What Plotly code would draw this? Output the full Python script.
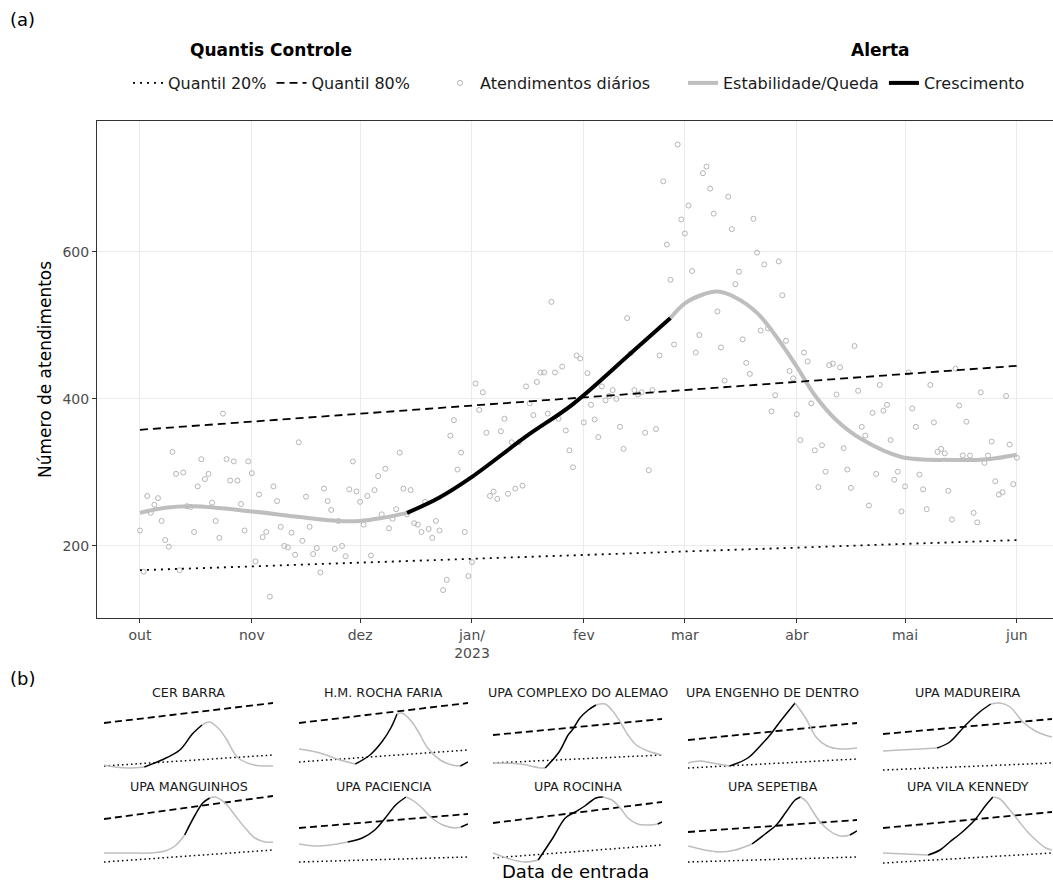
import pandas as pd
import plotly.graph_objects as go

FONT = "DejaVu Sans"
W, H = 1053, 882
START = pd.Timestamp("2022-10-01")

# ---------------- panel (a): daily attendances (Oct 1 2022 .. Jun 1 2023) ----------------
DAILY = [
    221, 165, 268, 245, 256, 265, 234, 208, 199, 328, 298, 167, 300, 254, 253, 219, 281, 318, 291, 298,
    259, 234, 211, 380, 318, 289, 315, 289, 257, 221, 315, 299, 179, 270, 212, 219, 131, 281, 261, 226,
    200, 198, 218, 188, 341, 207, 267, 226, 189, 197, 164, 278, 261, 249, 196, 234, 200, 186, 277, 315,
    274, 260, 229, 268, 187, 276, 295, 243, 305, 224, 237, 250, 327, 278, 243, 276, 231, 229, 219, 260,
    223, 211, 234, 221, 140, 154, 350, 371, 304, 327, 219, 159, 178, 421, 385, 409, 354, 268, 274, 264,
    356, 373, 271, 341, 278, 341, 282, 417, 394, 378, 423, 436, 436, 380, 532, 436, 373, 444, 357, 330,
    307, 459, 455, 368, 435, 392, 372, 348, 417, 398, 404, 412, 400, 362, 332, 510, 462, 412, 406, 409,
    354, 303, 412, 359, 459, 696, 610, 562, 474, 746, 644, 625, 663, 574, 463, 487, 707, 716, 686, 652,
    519, 470, 425, 675, 631, 556, 573, 481, 449, 434, 645, 599, 493, 583, 496, 383, 405, 587, 541, 479,
    438, 428, 379, 344, 463, 451, 394, 330, 280, 337, 301, 446, 448, 406, 443, 333, 304, 279, 472, 411,
    362, 350, 255, 381, 298, 419, 384, 392, 344, 290, 301, 247, 281, 436, 387, 362, 297, 277, 250, 419,
    368, 328, 332, 326, 275, 236, 441, 391, 323, 369, 323, 245, 232, 409, 313, 323, 342, 288, 270, 273,
    404, 338, 284, 320,
]

# smoothed trend (day offset from Oct 1 2022, value)
CURVE_DAYS = [0, 7, 15, 31, 43, 55, 61, 67, 74, 83, 92, 107, 120, 136, 147, 151, 156, 160, 165, 171,
              176, 182, 187, 193, 200, 211, 225, 235, 243]
CURVE_VALS = [245, 252, 254, 247, 240, 234, 234, 238, 245, 266, 294, 349, 393, 462, 510, 530, 542, 546,
              538, 517, 487, 444, 405, 371, 345, 321, 317, 318, 324]
CURVE_GROWTH = [(8, 14)]  # index ranges flagged as "Crescimento"

Q20_MAIN = (167, 208)   # value at first and last day
Q80_MAIN = (358, 445)
LAST_DAY = 243

MONTH_TICKS = ["2022-10-01", "2022-11-01", "2022-12-01", "2023-01-01", "2023-02-01",
               "2023-03-01", "2023-04-01", "2023-05-01", "2023-06-01"]
MONTH_LABELS = ["out", "nov", "dez", "jan/<br>2023", "fev", "mar", "abr", "mai", "jun"]
Y_TICKS = [200, 400, 600]

# ---------------- panel (b): units (relative scale) ----------------
UNITS = ["CER BARRA", "H.M. ROCHA FARIA", "UPA COMPLEXO DO ALEMAO", "UPA ENGENHO DE DENTRO",
         "UPA MADUREIRA", "UPA MANGUINHOS", "UPA PACIENCIA", "UPA ROCINHA", "UPA SEPETIBA",
         "UPA VILA KENNEDY"]
UNIT_DAYS = [
    [0, 16, 36, 58, 83, 109, 127, 141, 152, 164, 175, 193, 216, 243],
    [0, 30, 59, 81, 102, 119, 132, 141, 148, 160, 171, 185, 203, 220, 232, 243],
    [0, 39, 69, 75, 95, 108, 115, 125, 137, 148, 161, 171, 183, 194, 206, 223, 243],
    [0, 17, 35, 60, 86, 105, 118, 132, 154, 170, 184, 200, 219, 243],
    [0, 24, 53, 78, 96, 119, 139, 155, 168, 183, 201, 219, 233, 243],
    [0, 37, 66, 88, 102, 116, 131, 142, 152, 160, 174, 188, 203, 217, 232, 243],
    [0, 23, 45, 70, 91, 109, 124, 139, 154, 165, 177, 191, 207, 224, 233, 243],
    [0, 24, 46, 65, 86, 104, 118, 132, 148, 158, 171, 183, 194, 208, 226, 237, 243],
    [0, 24, 46, 68, 92, 111, 127, 141, 154, 162, 171, 180, 190, 204, 219, 233, 243],
    [0, 32, 65, 82, 96, 114, 132, 147, 158, 168, 180, 194, 208, 223, 234, 243],
]
UNIT_VALS = [
    [7, 5, 4, 5, 12, 22, 38, 47, 50, 44, 34, 14, 7, 6],
    [23, 19, 12, 8, 17, 30, 44, 58, 59, 52, 41, 24, 12, 7, 6, 10],
    [9, 8, 4, 4, 20, 37, 43, 54, 62, 67, 68, 62, 50, 37, 27, 21, 17],
    [9, 11, 9, 6, 14, 27, 37, 50, 69, 53, 35, 26, 23, 24],
    [21, 22, 23, 24, 30, 47, 60, 68, 69, 65, 50, 41, 37, 35],
    [13, 13, 13, 15, 20, 31, 51, 63, 68, 69, 63, 51, 38, 28, 24, 24],
    [22, 20, 21, 24, 28, 36, 48, 61, 69, 65, 58, 48, 41, 38, 39, 42],
    [13, 7, 4, 6, 28, 48, 54, 60, 68, 69, 66, 58, 48, 42, 41, 42, 44],
    [20, 16, 14, 16, 22, 32, 41, 54, 66, 69, 64, 54, 44, 35, 30, 31, 35],
    [13, 12, 11, 16, 24, 34, 46, 60, 69, 67, 58, 46, 34, 24, 18, 16],
]
UNIT_GROWTH = [
    [(3, 7)], [(3, 7), (14, 15)], [(3, 9)], [(3, 8)], [(3, 7)],
    [(5, 8)], [(3, 8), (14, 15)], [(3, 9), (15, 16)], [(4, 9), (15, 16)], [(2, 8)],
]
UNIT_Q20 = [(6, 17), (10, 22), (9, 17), (4, 13), (2, 9), (4, 16), (4, 9), (8, 21), (4, 9), (3, 13)]
UNIT_Q80 = [(49, 69), (49, 69), (37, 53), (32, 49), (38, 53), (47, 70), (38, 52), (43, 64), (34, 46), (38, 54)]

GRAY = "#bebebe"
BLACK = "#000000"


def day(d):
    return START + pd.Timedelta(days=d)


def split(days, vals, growth):
    n = len(days)
    cuts = sorted(set([0, n - 1] + [i for r in growth for i in r]))
    segs = []
    for a, b in zip(cuts[:-1], cuts[1:]):
        g = any(r[0] <= a and b <= r[1] for r in growth)
        segs.append((g, [day(d) for d in days[a:b + 1]], vals[a:b + 1]))
    return segs


fig = go.Figure()

# ----- main panel -----
fig.add_trace(go.Scatter(
    x=[day(i) for i in range(len(DAILY))], y=DAILY, mode="markers",
    marker=dict(symbol="circle-open", size=5, color="#b5b5b5", line=dict(width=1)),
    name="Atendimentos diários", legend="legend2", showlegend=True))

shown = set()
for g, xs, ys in split(CURVE_DAYS, CURVE_VALS, CURVE_GROWTH):
    nm = "Crescimento" if g else "Estabilidade/Queda"
    fig.add_trace(go.Scatter(
        x=xs, y=ys, mode="lines", line=dict(color=BLACK if g else GRAY, width=4, shape="spline"),
        name=nm, legend="legend3", showlegend=nm not in shown, legendrank=2 if g else 1))
    shown.add(nm)

fig.add_trace(go.Scatter(
    x=[day(0), day(LAST_DAY)], y=list(Q20_MAIN), mode="lines",
    line=dict(color="black", width=1.8, dash="2px,5px"), name="Quantil 20%", legend="legend"))
fig.add_trace(go.Scatter(
    x=[day(0), day(LAST_DAY)], y=list(Q80_MAIN), mode="lines",
    line=dict(color="black", width=1.8, dash="8px,5px"), name="Quantil 80%", legend="legend"))

# ----- small multiples -----
LEFTS = [104, 299, 493, 688, 883]
PW = 169
ROWS = [(696, 776), (790, 870)]  # pixel top / bottom of each row's plot area
annotations = []
layout_axes = {}
for k, unit in enumerate(UNITS):
    r, c = divmod(k, 5)
    ax = k + 2
    xa, ya = f"x{ax}", f"y{ax}"
    left = LEFTS[c]
    top, bot = ROWS[r]
    layout_axes[f"xaxis{ax}"] = dict(domain=[left / W, (left + PW) / W], range=[day(0), day(LAST_DAY)],
                                     visible=False, anchor=ya, type="date")
    layout_axes[f"yaxis{ax}"] = dict(domain=[1 - bot / H, 1 - top / H], range=[-4, 76],
                                     visible=False, anchor=xa)
    fig.add_trace(go.Scatter(x=[day(0), day(LAST_DAY)], y=list(UNIT_Q20[k]), mode="lines",
                             line=dict(color="black", width=1.5, dash="1.5px,3px"),
                             xaxis=xa, yaxis=ya, showlegend=False))
    fig.add_trace(go.Scatter(x=[day(0), day(LAST_DAY)], y=list(UNIT_Q80[k]), mode="lines",
                             line=dict(color="black", width=1.8, dash="7px,4px"),
                             xaxis=xa, yaxis=ya, showlegend=False))
    for g, xs, ys in split(UNIT_DAYS[k], UNIT_VALS[k], UNIT_GROWTH[k]):
        fig.add_trace(go.Scatter(x=xs, y=ys, mode="lines",
                                 line=dict(color=BLACK if g else GRAY, width=1.5, shape="spline"),
                                 xaxis=xa, yaxis=ya, showlegend=False))
    annotations.append(dict(text=unit, x=(left + PW / 2) / W, y=1 - (top - 4) / H, xref="paper", yref="paper",
                            xanchor="center", yanchor="middle", showarrow=False,
                            font=dict(family=FONT, size=12.7, color="#1a1a1a")))

annotations += [
    dict(text="(a)", x=8 / W, y=1 - 20 / H, xref="paper", yref="paper", xanchor="left", yanchor="middle",
         showarrow=False, font=dict(family=FONT, size=18, color="black")),
    dict(text="(b)", x=8 / W, y=1 - 678 / H, xref="paper", yref="paper", xanchor="left", yanchor="middle",
         showarrow=False, font=dict(family=FONT, size=18, color="black")),
    dict(text="Número de atendimentos", x=45 / W, y=1 - 370 / H, xref="paper", yref="paper",
         xanchor="center", yanchor="middle", textangle=-90, showarrow=False,
         font=dict(family=FONT, size=17, color="black")),
    dict(text="Data de entrada", x=575 / W, y=1 - 871 / H, xref="paper", yref="paper",
         xanchor="center", yanchor="middle", showarrow=False,
         font=dict(family=FONT, size=18, color="black")),
    dict(text="<b>Quantis Controle</b>", x=271 / W, y=1 - 50 / H, xref="paper", yref="paper",
         xanchor="center", yanchor="middle", showarrow=False,
         font=dict(family=FONT, size=17, color="black")),
    dict(text="<b>Alerta</b>", x=880 / W, y=1 - 50 / H, xref="paper", yref="paper",
         xanchor="center", yanchor="middle", showarrow=False,
         font=dict(family=FONT, size=17, color="black")),
]

axis_common = dict(showgrid=True, gridcolor="#ebebeb", gridwidth=1, zeroline=False,
                   showline=True, linecolor="#333333", linewidth=1, mirror=True,
                   ticks="outside", ticklen=4, tickcolor="#333333",
                   tickfont=dict(family=FONT, size=14, color="#4d4d4d"))

legend_common = dict(orientation="h", bgcolor="rgba(0,0,0,0)", itemwidth=30,
                     font=dict(family=FONT, size=16, color="#1a1a1a"), yanchor="top", xanchor="left")

fig.update_layout(
    width=W, height=H, margin=dict(l=0, r=0, t=0, b=0),
    paper_bgcolor="white", plot_bgcolor="white",
    font=dict(family=FONT),
    xaxis=dict(domain=[97 / W, 1.0], range=[START - pd.Timedelta(days=11.9), START + pd.Timedelta(days=253)],
               type="date", tickvals=MONTH_TICKS, ticktext=MONTH_LABELS, **axis_common),
    yaxis=dict(domain=[1 - 618 / H, 1 - 121 / H], range=[102, 778], tickvals=Y_TICKS, **axis_common),
    legend=dict(x=128 / W, y=1 - 66 / H, **legend_common),
    legend2=dict(x=440 / W, y=1 - 66 / H, **legend_common),
    legend3=dict(x=683 / W, y=1 - 66 / H, **legend_common),
    annotations=annotations,
    **layout_axes,
)

fig.write_html("out.html", config={"displayModeBar": False},
               post_script="document.body.style.margin='0';")
